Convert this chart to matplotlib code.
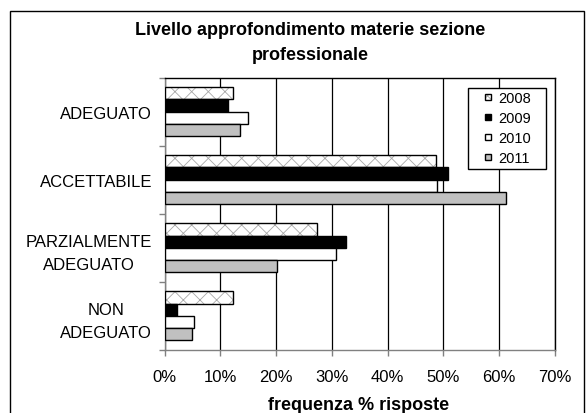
import matplotlib
matplotlib.use("Agg")
import matplotlib.pyplot as plt
from matplotlib.patches import Patch, Rectangle
from matplotlib.legend_handler import HandlerTuple, HandlerPatch
from matplotlib.ticker import PercentFormatter, FixedLocator
import numpy as np

categories = ["ADEGUATO", "ACCETTABILE", "PARZIALMENTE\nADEGUATO", "NON\nADEGUATO"]
years = ["2008", "2009", "2010", "2011"]
v2008 = [12.2, 48.6, 27.3, 12.2]
v2009 = [11.4, 50.8, 32.6, 2.3]
v2010 = [15.0, 48.9, 30.7, 5.3]
v2011 = [13.6, 61.2, 20.2, 5.0]
series = [v2008, v2009, v2010, v2011]
x_ticks = [0, 10, 20, 30, 40, 50, 60, 70]

plt.rcParams['font.family'] = ['Liberation Sans', 'DejaVu Sans']
plt.rcParams['hatch.linewidth'] = 0.6

W, H = 586, 414
fig = plt.figure(figsize=(W / 100, H / 100), dpi=100)
fig.patch.set_facecolor('white')

def fx(px):
    return px / W

def fy(py):
    return 1 - py / H

# outer chart border
fig.add_artist(Rectangle((fx(10), -0.05), fx(584) - fx(10), 1.05 - 12 / H,
                         transform=fig.transFigure, fill=False,
                         edgecolor='black', lw=1.0))

ax_l, ax_r, ax_t, ax_b = 164.5, 555, 78.5, 351
ax = fig.add_axes([fx(ax_l), fy(ax_b), fx(ax_r) - fx(ax_l), fy(ax_t) - fy(ax_b)])

y = np.arange(len(categories))
h = 0.18
offsets = [-1.5 * h, -0.5 * h, 0.5 * h, 1.5 * h]
faces = ['white', 'black', 'white', '#c0c0c0']

for i, (vals, off, fc) in enumerate(zip(series, offsets, faces)):
    if i == 0:
        ax.barh(y + off, vals, height=h, color='white', hatch='xx',
                edgecolor='#a8a8a8', lw=0, zorder=3)
        ax.barh(y + off, vals, height=h, fill=False, edgecolor='black',
                lw=1.0, zorder=4)
    else:
        ax.barh(y + off, vals, height=h, color=fc, edgecolor='black',
                lw=1.0, zorder=3)

ax.set_xlim(0, 70)
ax.set_ylim(len(categories) - 0.5, -0.5)
ax.xaxis.set_major_locator(FixedLocator(x_ticks))
ax.xaxis.set_major_formatter(PercentFormatter(decimals=0))
ax.grid(axis='x', color='black', lw=0.9, zorder=0)
ax.set_axisbelow(True)

ax.set_yticks(y)
ax.set_yticklabels(categories, fontsize=12, linespacing=1.65)
for lab in ax.get_yticklabels():
    lab.set_multialignment('center')
ax.yaxis.set_minor_locator(FixedLocator(np.arange(len(categories) + 1) - 0.5))
ax.tick_params(axis='y', which='major', length=0, pad=9)
ax.tick_params(axis='y', which='minor', length=4, color='#808080', width=1)
ax.tick_params(axis='x', which='major', length=4, color='#808080', width=1,
               labelsize=12, pad=10)

ax.spines['left'].set_color('#808080')
ax.spines['bottom'].set_color('#808080')
ax.spines['top'].set_color('black')
ax.spines['right'].set_color('black')
for s in ax.spines.values():
    s.set_linewidth(1.0)

fig.text(fx(359), fy(406), 'frequenza % risposte', ha='center', va='center',
         fontsize=13, fontweight='bold')

fig.text(fx(310), fy(43), 'Livello approfondimento materie sezione\nprofessionale',
         ha='center', va='center', fontsize=13, fontweight='bold', linespacing=1.55)

# legend
MS = 4.5  # marker size in points

def small_square(legend, orig_handle, xdescent, ydescent, width, height, fontsize):
    return Rectangle((-xdescent + width - MS, -ydescent + (height - MS) / 2), MS, MS)

hp = HandlerPatch(patch_func=small_square)
h2008 = (Patch(facecolor='white', hatch='xxxx', edgecolor='#a0a0a0', lw=0),
         Patch(fill=False, edgecolor='black', lw=1.0))
handles = [h2008,
           Patch(facecolor='black', edgecolor='black', lw=1.0),
           Patch(facecolor='white', edgecolor='black', lw=1.0),
           Patch(facecolor='#c0c0c0', edgecolor='black', lw=1.0)]
leg = fig.legend(handles, years, loc='upper left',
                 bbox_to_anchor=(fx(478), fy(92)),
                 fontsize=10.5, frameon=False,
                 handlelength=0.9, handleheight=0.7,
                 handletextpad=0.5, labelspacing=0.42, borderpad=0, borderaxespad=0,
                 handler_map={tuple: HandlerTuple(ndivide=1, pad=0), Patch: hp})
leg.set_zorder(10)
fig.add_artist(Rectangle((fx(468), fy(170)), fx(546) - fx(468), fy(89) - fy(170),
                         transform=fig.transFigure, facecolor='white',
                         edgecolor='black', lw=1.0, zorder=9))

fig.savefig('out.png', dpi=100, facecolor='white')
